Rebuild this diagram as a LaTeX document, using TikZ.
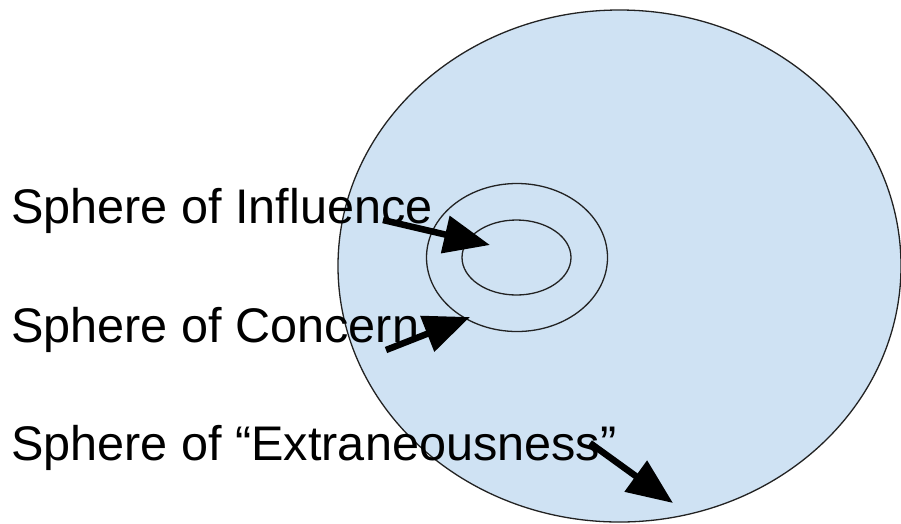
\documentclass[tikz,border=0pt]{standalone}
\usepackage{fontspec}
\setmainfont{Liberation Sans}
\usetikzlibrary{arrows.meta,shapes.geometric}
\definecolor{fillblue}{HTML}{CFE2F3}
\definecolor{edge}{HTML}{222222}
\begin{document}
\begin{tikzpicture}[x=1pt,y=-1pt,
  sphere/.style={ellipse,draw=edge,line width=1.3pt,inner sep=0pt,outer sep=0pt},
  lbl/.style={anchor=base west,inner sep=0pt,font=\fontsize{48.6}{58}\selectfont},
  bigarrow/.style={line width=6.5pt,-{Triangle[length=46pt,width=37pt]},black}]
\useasboundingbox (0,0) rectangle (901,523);
\fill[white] (0,0) rectangle (901,523);
\node[sphere,fill=fillblue,minimum width=563pt,minimum height=512pt] (outer) at (619.5,266) {};
\node[sphere,minimum width=181pt,minimum height=148pt] (concern) at (517,257.5) {};
\node[sphere,minimum width=109pt,minimum height=75pt] (influence) at (516.5,257.5) {};
\node[lbl] (t1) at (11,223) {Sphere of Influence};
\node[lbl] (t2) at (11,342) {Sphere of Concern};
\node[lbl] (t3) at (11,460) {Sphere of “Extraneousness”};
\coordinate (a1s) at (383,220);
\coordinate (a1e) at (490,245);
\coordinate (a2s) at (386,350);
\coordinate (a2e) at (470,317);
\coordinate (a3s) at (590,443);
\coordinate (a3e) at (673,503);
\draw[bigarrow] (a1s) -- (a1e);
\draw[bigarrow] (a2s) -- (a2e);
\draw[bigarrow] (a3s) -- (a3e);
\end{tikzpicture}
\end{document}
